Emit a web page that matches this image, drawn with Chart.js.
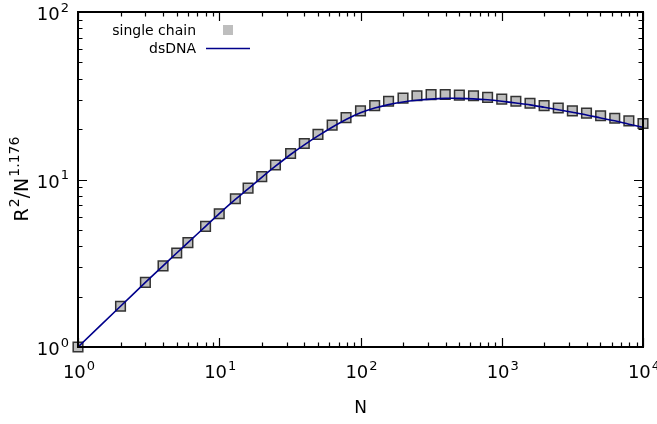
<!DOCTYPE html>
<html>
<head>
<meta charset="utf-8">
<script src="https://cdn.jsdelivr.net/npm/chart.js@4"></script>
<style>
  html, body { margin: 0; padding: 0; background: #fff; }
  canvas { display: block; }
</style>
</head>
<body>
<canvas id="chart" width="657" height="424"></canvas>
<script>
    'use strict';

    // N values (log-spaced after 10)
    var nValues = [1, 2, 3, 4, 5, 6, 8, 10, 13, 16, 20, 25, 32, 40, 50, 63, 79, 100,
                   126, 158, 200, 251, 316, 398, 501, 631, 794, 1000, 1259, 1585, 1995,
                   2512, 3162, 3981, 5012, 6310, 7943, 10000];

    // single chain, R^2/N^1.176
    var singleChain = [1, 1.75, 2.43, 3.05, 3.64, 4.2, 5.25, 6.25, 7.68, 8.88, 10.4, 12.2,
                       14.3, 16.4, 18.6, 21.1, 23.4, 25.7, 27.6, 29.3, 30.6, 31.6, 32.1,
                       32.2, 31.9, 31.6, 30.9, 30.2, 29.3, 28.5, 27.6, 26.7, 25.7, 24.9,
                       24.0, 23.2, 22.4, 21.6];

    // dsDNA curve
    var dsDNA = [1, 1.75, 2.43, 3.05, 3.64, 4.2, 5.25, 6.25, 7.6, 8.8, 10.3, 12.0,
                 14.1, 16.1, 18.2, 20.5, 22.8, 25.0, 26.7, 28.0, 29.0, 29.7, 30.2,
                 30.5, 30.5, 30.3, 29.9, 29.3, 28.6, 27.9, 27.0, 26.1, 25.2, 24.3,
                 23.3, 22.4, 21.4, 20.5];

    var xTicks = [1, 10, 100, 1000, 10000];
    var yTicks = [1, 10, 100];
    var xMin = 1, xMax = 10000, yMin = 1, yMax = 100;

    var FONT = '"DejaVu Sans", Verdana, sans-serif';

    function toPoints(xs, ys) {
        return xs.map(function (x, i) { return { x: x, y: ys[i] }; });
    }

    function drawPower(ctx, base, exp, x, y, size, align) {
        ctx.font = size + 'px ' + FONT;
        var wb = ctx.measureText(base).width;
        ctx.font = Math.round(size * 0.72) + 'px ' + FONT;
        var we = ctx.measureText(exp).width;
        var total = wb + we + 1;
        var start = align === 'right' ? x - total : (align === 'center' ? x - total / 2 : x);
        ctx.textAlign = 'left';
        ctx.textBaseline = 'alphabetic';
        ctx.font = size + 'px ' + FONT;
        ctx.fillText(base, start, y);
        ctx.font = Math.round(size * 0.72) + 'px ' + FONT;
        ctx.fillText(exp, start + wb + 1, y - size * 0.45);
    }

    var frame = {
        id: 'frame',
        afterDatasetsDraw: function (chart) {
            var ctx = chart.ctx;
            var a = chart.chartArea;
            var xs = chart.scales.x, ys = chart.scales.y;
            ctx.save();
            ctx.strokeStyle = '#000';
            ctx.fillStyle = '#000';

            // ticks, inward on all sides
            ctx.lineWidth = 1.2;
            ctx.beginPath();
            var d, m, p, len;
            for (d = 1; d <= xMax; d *= 10) {
                for (m = 1; m <= 9; m++) {
                    var v = d * m;
                    if (v > xMax) break;
                    p = Math.round(xs.getPixelForValue(v)) + 0.5;
                    len = m === 1 ? 9 : 4.5;
                    ctx.moveTo(p, a.bottom); ctx.lineTo(p, a.bottom - len);
                    ctx.moveTo(p, a.top); ctx.lineTo(p, a.top + len);
                }
            }
            for (d = 1; d <= yMax; d *= 10) {
                for (m = 1; m <= 9; m++) {
                    var w = d * m;
                    if (w > yMax) break;
                    p = Math.round(ys.getPixelForValue(w)) + 0.5;
                    len = m === 1 ? 9 : 4.5;
                    ctx.moveTo(a.left, p); ctx.lineTo(a.left + len, p);
                    ctx.moveTo(a.right, p); ctx.lineTo(a.right - len, p);
                }
            }
            ctx.stroke();

            // border
            ctx.lineWidth = 2;
            ctx.strokeRect(a.left, a.top, a.right - a.left, a.bottom - a.top);

            // tick labels
            xTicks.forEach(function (t) {
                drawPower(ctx, '10', String(Math.round(Math.log10(t))), xs.getPixelForValue(t) + 1, a.bottom + 31, 18, 'center');
            });
            yTicks.forEach(function (t) {
                drawPower(ctx, '10', String(Math.round(Math.log10(t))), a.left - 9, ys.getPixelForValue(t) + 8, 18, 'right');
            });

            // axis titles
            ctx.font = '17px ' + FONT;
            ctx.textAlign = 'center';
            ctx.fillText('N', (a.left + a.right) / 2, 413);

            ctx.save();
            ctx.translate(28, 179);
            ctx.rotate(-Math.PI / 2);
            var parts = [['R', 0], ['2', 1], ['/N', 0], ['1.176', 1]];
            var total = 0;
            parts.forEach(function (pt) {
                ctx.font = (pt[1] ? 14 : 19) + 'px ' + FONT;
                total += ctx.measureText(pt[0]).width + (pt[1] ? 1 : 0);
            });
            var cx = -total / 2;
            ctx.textAlign = 'left';
            parts.forEach(function (pt) {
                ctx.font = (pt[1] ? 14 : 19) + 'px ' + FONT;
                ctx.fillText(pt[0], cx + (pt[1] ? 1 : 0), pt[1] ? -9 : 0);
                cx += ctx.measureText(pt[0]).width + (pt[1] ? 1 : 0);
            });
            ctx.restore();

            // legend
            ctx.font = '14px ' + FONT;
            ctx.textAlign = 'right';
            ctx.fillText('single chain', 196, 35);
            ctx.fillText('dsDNA', 196, 53);
            ctx.fillStyle = '#bebebe';
            ctx.fillRect(223, 25, 10, 10);
            ctx.strokeStyle = '#00008b';
            ctx.lineWidth = 1.5;
            ctx.beginPath();
            ctx.moveTo(206, 48.5); ctx.lineTo(250, 48.5);
            ctx.stroke();

            ctx.restore();
        }
    };

    var config = {
        type: 'scatter',
        data: {
            datasets: [{
                label: 'dsDNA',
                data: toPoints(nValues, dsDNA),
                showLine: true,
                borderColor: '#00008b',
                borderWidth: 1.6,
                pointRadius: 0,
                tension: 0.3,
                order: 0
            }, {
                label: 'single chain',
                data: toPoints(nValues, singleChain),
                showLine: false,
                pointStyle: 'rect',
                pointRadius: 6.8,
                backgroundColor: '#bebebe',
                borderColor: '#333333',
                borderWidth: 1.5,
                clip: false,
                order: 1
            }]
        },
        options: {
            responsive: false,
            animation: false,
            events: [],
            layout: { padding: { left: 78, right: 14, top: 12, bottom: 77 } },
            plugins: {
                legend: { display: false },
                tooltip: { enabled: false }
            },
            scales: {
                x: {
                    type: 'logarithmic',
                    display: false,
                    min: xMin, max: xMax
                },
                y: {
                    type: 'logarithmic',
                    display: false,
                    min: yMin, max: yMax
                }
            }
        },
        plugins: [frame]
    };

    new Chart(document.getElementById('chart').getContext('2d'), config);
</script>
</body>
</html>
